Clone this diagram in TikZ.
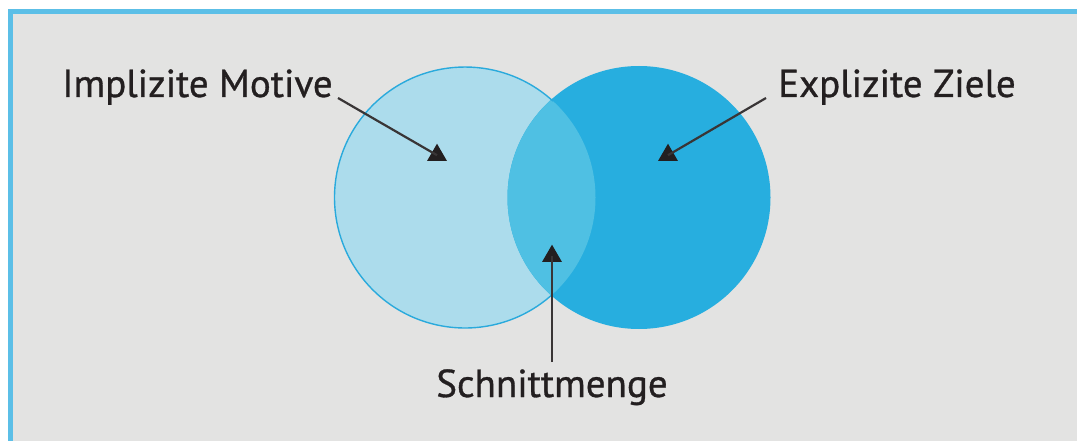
\documentclass[tikz,border=0pt]{standalone}
\usepackage{fontspec}
\setmainfont[FakeBold=0.8]{PT Sans}
\usetikzlibrary{shapes.geometric}
\definecolor{bgc}{HTML}{E3E3E2}
\definecolor{framec}{HTML}{5CBFE7}
\definecolor{lightc}{HTML}{ACDCEC}
\definecolor{darkc}{HTML}{27AEDF}
\definecolor{midc}{HTML}{4FC0E3}
\definecolor{edgec}{HTML}{2AAADC}
\definecolor{inkc}{HTML}{231F20}
\tikzset{
  lbl/.style={inner sep=0pt, anchor=base west, text=inkc, font=\fontsize{39}{45}\selectfont},
  tri/.style={regular polygon, regular polygon sides=3, fill=inkc, draw=none, inner sep=0pt, minimum size=23pt},
  pointer/.style={draw=inkc!90, line width=2.2pt}
}
\begin{document}
\begin{tikzpicture}[x=1pt,y=-1pt]
\useasboundingbox (0,0) rectangle (1077,441);
\fill[white] (0,0) rectangle (1077,441);
\clip (0,0) rectangle (1077,441);
\draw[fill=bgc, draw=framec, line width=4.5pt] (10.5,11.5) rectangle (1110,470);
% circles
\fill[lightc] (465,197.5) circle[radius=130.5];
\fill[darkc] (639,197.5) circle[radius=131.5];
\begin{scope}
  \clip (465,197.5) circle[radius=130.5];
  \fill[midc] (639,197.5) circle[radius=131.5];
\end{scope}
\draw[edgec, line width=1.4pt] (465,197.5) ++(47.6:130.5) arc[start angle=47.6, end angle=312.4, radius=130.5];
% labels
\node[lbl] (im) at (62,97) {Implizite Motive};
\node[lbl] (ex) at (778,97) {Explizite Ziele};
\node[lbl, anchor=base] (sm) at (552,397) {Schnittmenge};
% arrowheads
\node[tri] (t1) at (437,155.2) {};
\node[tri] (t2) at (668,155.2) {};
\node[tri] (t3) at (552,256.2) {};
% connector free ends
\coordinate (s1) at (338,98);
\coordinate (s2) at (766,98);
\coordinate (s3) at (552,362);
\draw[pointer] (s1) -- (t1.center);
\draw[pointer] (s2) -- (t2.center);
\draw[pointer] (s3) -- (t3.center);
\end{tikzpicture}
\end{document}
